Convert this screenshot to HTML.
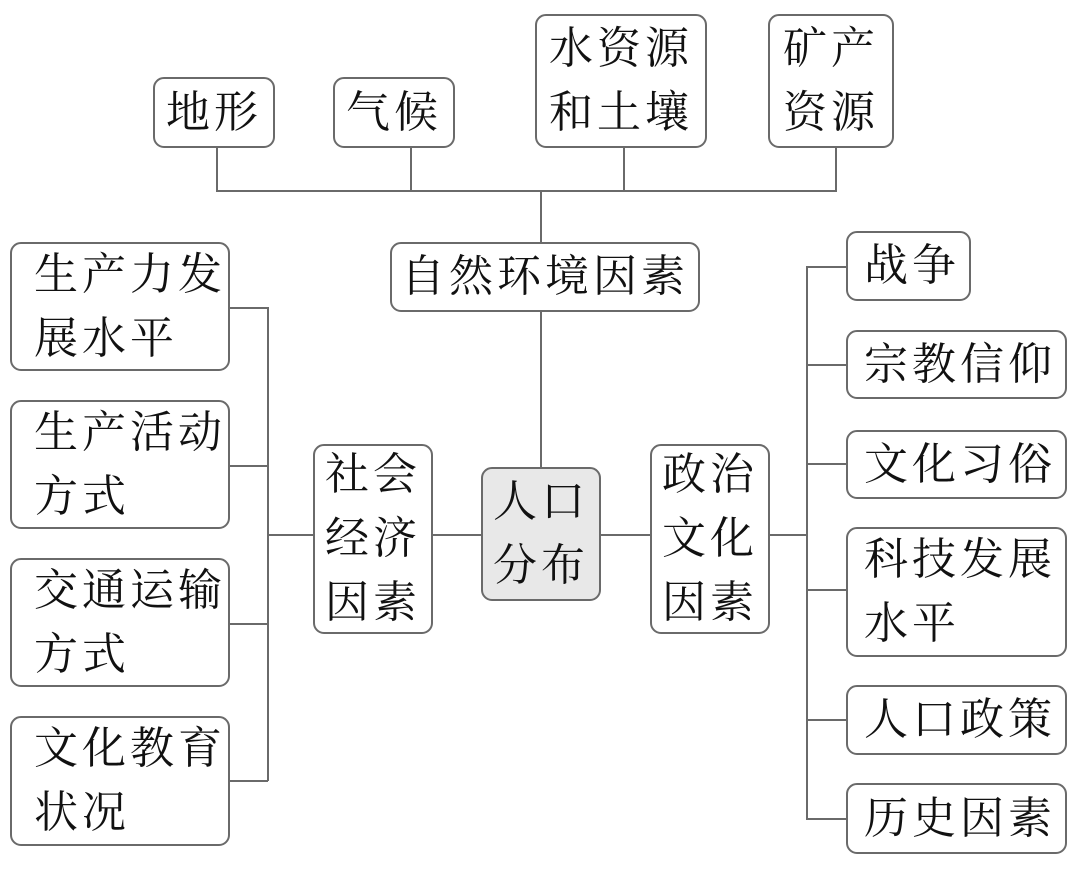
<!DOCTYPE html>
<html><head><meta charset="utf-8"><style>
body{margin:0;width:1080px;height:871px;background:#fff;position:relative;overflow:hidden}
.b{position:absolute;box-sizing:border-box;border:2px solid #6a6a6a;border-radius:11px;background:#fff;
font-family:"Liberation Serif","Noto Serif CJK SC",serif;font-size:44px;color:#111;line-height:64px;
display:flex;align-items:center;padding-left:22px;letter-spacing:4px}
.c{justify-content:center;padding-left:0;text-align:center}
.l{position:absolute;background:#6a6a6a}
</style></head><body>
<!-- lines -->
<div class="l" style="left:216px;top:190px;width:621px;height:2px"></div>
<div class="l" style="left:216px;top:147px;width:2px;height:44px"></div>
<div class="l" style="left:410px;top:147px;width:2px;height:44px"></div>
<div class="l" style="left:623px;top:147px;width:2px;height:44px"></div>
<div class="l" style="left:835px;top:147px;width:2px;height:44px"></div>
<div class="l" style="left:540px;top:190px;width:2px;height:54px"></div>
<div class="l" style="left:540px;top:310px;width:2px;height:160px"></div>
<div class="l" style="left:430px;top:534px;width:54px;height:2px"></div>
<div class="l" style="left:598px;top:534px;width:54px;height:2px"></div>
<div class="l" style="left:267px;top:307px;width:2px;height:474px"></div>
<div class="l" style="left:267px;top:534px;width:48px;height:2px"></div>
<div class="l" style="left:228px;top:307px;width:40px;height:2px"></div>
<div class="l" style="left:228px;top:465px;width:40px;height:2px"></div>
<div class="l" style="left:228px;top:623px;width:40px;height:2px"></div>
<div class="l" style="left:228px;top:780px;width:40px;height:2px"></div>
<div class="l" style="left:806px;top:266px;width:2px;height:553px"></div>
<div class="l" style="left:768px;top:534px;width:40px;height:2px"></div>
<div class="l" style="left:806px;top:266px;width:42px;height:2px"></div>
<div class="l" style="left:806px;top:364px;width:42px;height:2px"></div>
<div class="l" style="left:806px;top:463px;width:42px;height:2px"></div>
<div class="l" style="left:806px;top:589px;width:42px;height:2px"></div>
<div class="l" style="left:806px;top:719px;width:42px;height:2px"></div>
<div class="l" style="left:806px;top:818px;width:42px;height:2px"></div>
<!-- top -->
<div class="b c" style="left:153px;top:77px;width:122px;height:71px">地形</div>
<div class="b c" style="left:333px;top:77px;width:122px;height:71px">气候</div>
<div class="b c" style="left:535px;top:14px;width:172px;height:134px">水资源<br>和土壤</div>
<div class="b c" style="left:768px;top:14px;width:126px;height:134px">矿产<br>资源</div>
<div class="b c" style="left:390px;top:242px;width:310px;height:70px">自然环境因素</div>
<div class="b c" style="left:481px;top:467px;width:120px;height:134px;background:#e8e8e8">人口<br>分布</div>
<div class="b c" style="left:313px;top:444px;width:120px;height:190px">社会<br>经济<br>因素</div>
<div class="b c" style="left:650px;top:444px;width:120px;height:190px">政治<br>文化<br>因素</div>
<!-- left -->
<div class="b" style="left:10px;top:242px;width:220px;height:129px">生产力发<br>展水平</div>
<div class="b" style="left:10px;top:400px;width:220px;height:129px">生产活动<br>方式</div>
<div class="b" style="left:10px;top:558px;width:220px;height:129px">交通运输<br>方式</div>
<div class="b" style="left:10px;top:716px;width:220px;height:130px">文化教育<br>状况</div>
<!-- right -->
<div class="b" style="left:846px;top:231px;width:125px;height:70px;padding-left:16px">战争</div>
<div class="b" style="left:846px;top:330px;width:221px;height:69px;padding-left:16px">宗教信仰</div>
<div class="b" style="left:846px;top:430px;width:221px;height:69px;padding-left:16px">文化习俗</div>
<div class="b" style="left:846px;top:527px;width:221px;height:130px;padding-left:16px">科技发展<br>水平</div>
<div class="b" style="left:846px;top:685px;width:221px;height:70px;padding-left:16px">人口政策</div>
<div class="b" style="left:846px;top:783px;width:221px;height:71px;padding-left:16px">历史因素</div>
</body></html>
